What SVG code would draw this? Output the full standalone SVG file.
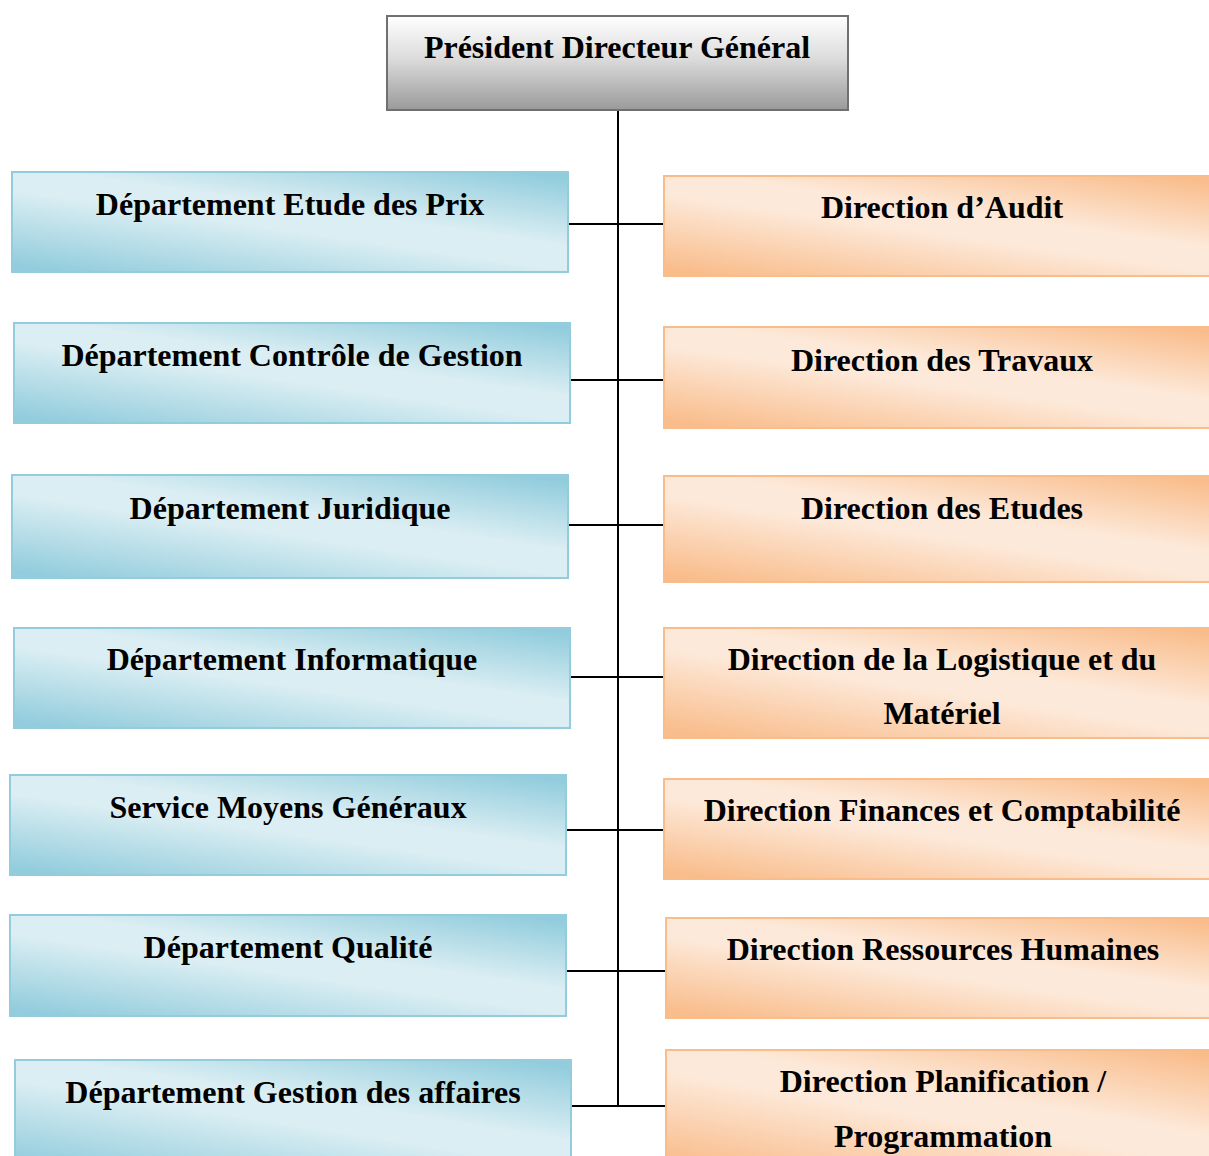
<svg xmlns="http://www.w3.org/2000/svg" width="1209" height="1156" viewBox="0 0 1209 1156">
<defs>
<linearGradient id="gGray" x1="0" y1="0" x2="0" y2="1">
<stop offset="0" stop-color="#ffffff"/>
<stop offset="0.45" stop-color="#dcdcdc"/>
<stop offset="1" stop-color="#9a9a9a"/>
</linearGradient>
<linearGradient id="gBlue" x1="0.1" y1="1" x2="0.9" y2="0">
<stop offset="0" stop-color="#93cddd"/>
<stop offset="0.45" stop-color="#dbeef3"/>
<stop offset="0.6" stop-color="#dbeef3"/>
<stop offset="1" stop-color="#93cddd"/>
</linearGradient>
<linearGradient id="gOrange" x1="0.1" y1="1" x2="0.9" y2="0">
<stop offset="0" stop-color="#f9bd8c"/>
<stop offset="0.45" stop-color="#fde9d9"/>
<stop offset="0.6" stop-color="#fde9d9"/>
<stop offset="1" stop-color="#f9bd8c"/>
</linearGradient>
</defs>
<style>
text{font-family:"Liberation Serif","Times New Roman",serif;font-weight:bold;font-size:32px;fill:#000;text-anchor:middle}
.b{fill:url(#gBlue);stroke:#93cddd;stroke-width:2}
.o{fill:url(#gOrange);stroke:#f9bd8c;stroke-width:2}
.p{fill:url(#gGray);stroke:#707070;stroke-width:2}
.c{stroke:#000;stroke-width:2;fill:none}
</style>
<rect width="1209" height="1156" fill="#fff"/>
<g id="connectors">
<line class="c" x1="618" y1="110" x2="618" y2="1107"/>
<line class="c" x1="568" y1="224" x2="664" y2="224"/>
<line class="c" x1="570" y1="380" x2="664" y2="380"/>
<line class="c" x1="568" y1="525" x2="664" y2="525"/>
<line class="c" x1="570" y1="677" x2="664" y2="677"/>
<line class="c" x1="566" y1="830" x2="664" y2="830"/>
<line class="c" x1="566" y1="971" x2="666" y2="971"/>
<line class="c" x1="571" y1="1106" x2="666" y2="1106"/>
</g>
<g id="pdg"><rect class="p" x="387" y="16" width="461" height="94"/><text x="617" y="58">Président Directeur Général</text></g>
<g id="dep-prix"><rect class="b" x="12" y="172" width="556" height="100"/><text x="290" y="215">Département Etude des Prix</text></g>
<g id="dep-controle"><rect class="b" x="14" y="323" width="556" height="100"/><text x="292" y="366">Département Contrôle de Gestion</text></g>
<g id="dep-juridique"><rect class="b" x="12" y="475" width="556" height="103"/><text x="290" y="519">Département Juridique</text></g>
<g id="dep-info"><rect class="b" x="14" y="628" width="556" height="100"/><text x="292" y="670">Département Informatique</text></g>
<g id="serv-moyens"><rect class="b" x="10" y="775" width="556" height="100"/><text x="288" y="818">Service Moyens Généraux</text></g>
<g id="dep-qualite"><rect class="b" x="10" y="915" width="556" height="101"/><text x="288" y="958">Département Qualité</text></g>
<g id="dep-affaires"><rect class="b" x="15" y="1060" width="556" height="110"/><text x="293" y="1103">Département Gestion des affaires</text></g>
<g id="dir-audit"><rect class="o" x="664" y="176" width="560" height="100"/><text x="942" y="218">Direction d’Audit</text></g>
<g id="dir-travaux"><rect class="o" x="664" y="327" width="560" height="101"/><text x="942" y="371">Direction des Travaux</text></g>
<g id="dir-etudes"><rect class="o" x="664" y="476" width="560" height="106"/><text x="942" y="519">Direction des Etudes</text></g>
<g id="dir-logistique"><rect class="o" x="664" y="628" width="560" height="110"/><text x="942" y="670">Direction de la Logistique et du</text><text x="942" y="724">Matériel</text></g>
<g id="dir-finances"><rect class="o" x="664" y="779" width="560" height="100"/><text x="942" y="821">Direction Finances et Comptabilité</text></g>
<g id="dir-rh"><rect class="o" x="666" y="918" width="560" height="100"/><text x="943" y="960">Direction Ressources Humaines</text></g>
<g id="dir-planif"><rect class="o" x="666" y="1050" width="560" height="120"/><text x="943" y="1092">Direction Planification /</text><text x="943" y="1147">Programmation</text></g>
</svg>
